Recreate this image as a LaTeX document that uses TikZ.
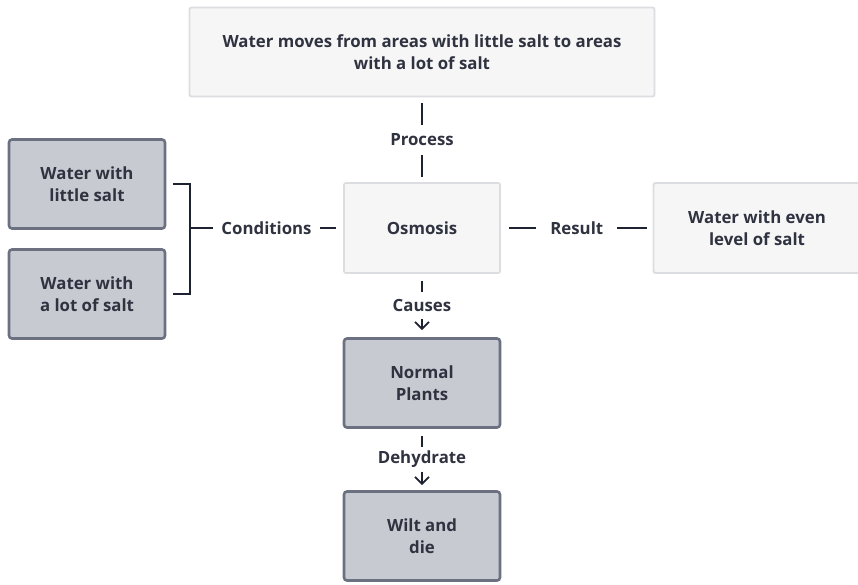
\documentclass[tikz,border=0pt]{standalone}
\usepackage{fontspec}
\setmainfont{Open Sans}
\usepackage{xcolor}
\usetikzlibrary{arrows.meta}
\definecolor{inkc}{HTML}{2F3340}
\definecolor{linec}{HTML}{1E2230}
\definecolor{paleb}{HTML}{F6F6F7}
\definecolor{paled}{HTML}{DCDDE0}
\definecolor{greyb}{HTML}{C8CAD1}
\definecolor{greyd}{HTML}{6C7181}
\tikzstyle{pale} = [rectangle, rounded corners=2pt, fill=paleb, draw=paled, line width=1.8pt, align=center, text=inkc, font=\bfseries\fontsize{16.8}{22}\selectfont]
\tikzstyle{grey} = [rectangle, rounded corners=3pt, fill=greyb, draw=greyd, line width=2.6pt, align=center, text=inkc, minimum width=156pt, minimum height=89pt, font=\bfseries\fontsize{16.8}{22}\selectfont]
\tikzstyle{link} = [draw=linec, line width=1.8pt]
\tikzstyle{lab} = [fill=white, inner xsep=8pt, inner ysep=9pt, text=inkc, font=\bfseries\fontsize{16.8}{20}\selectfont]
\tikzstyle{arrow} = [link, ->, >={Straight Barb[length=7pt,width=14pt,line width=1.8pt]}]

\begin{document}
\begin{tikzpicture}[x=1pt, y=-1pt]
        \useasboundingbox (0,0) rectangle (858,584);

        \node[pale, minimum width=465pt, minimum height=89pt] (top) at (422,52) {Water moves from areas with little salt to areas\\with a lot of salt};
        \node[pale, minimum width=156pt, minimum height=90pt] (osm) at (422,228) {Osmosis};
        \node[pale, minimum width=207pt, minimum height=90pt] (res) at (757,228) {Water with even\\level of salt};
        \node[grey] (little) at (87,184) {Water with\\little salt};
        \node[grey] (lot) at (87,294) {Water with\\a lot of salt};
        \node[grey] (plants) at (422,383) {Normal\\Plants};
        \node[grey] (wilt) at (422,536) {Wilt and\\die};
        \coordinate (brk) at (190,228);

        \draw[link, shorten <=6pt, shorten >=5pt] (top) -- node[lab] {Process} (osm);
        \draw[link, shorten <=7pt] (little) -| (brk);
        \draw[link, shorten >=7pt] (brk) |- (lot);
        \draw[link, shorten >=7pt] (brk) -- node[lab] {Conditions} (osm);
        \draw[link, shorten <=8pt, shorten >=6pt] (osm) -- node[lab, inner xsep=14pt] {Result} (res);
        \draw[arrow, shorten <=7pt, shorten >=7pt] (osm) -- node[lab, inner ysep=7pt] {Causes} (plants);
        \draw[arrow, shorten <=7pt, shorten >=5pt] (plants) -- node[lab, inner ysep=4.5pt] {Dehydrate} (wilt);

    \end{tikzpicture}
\end{document}
